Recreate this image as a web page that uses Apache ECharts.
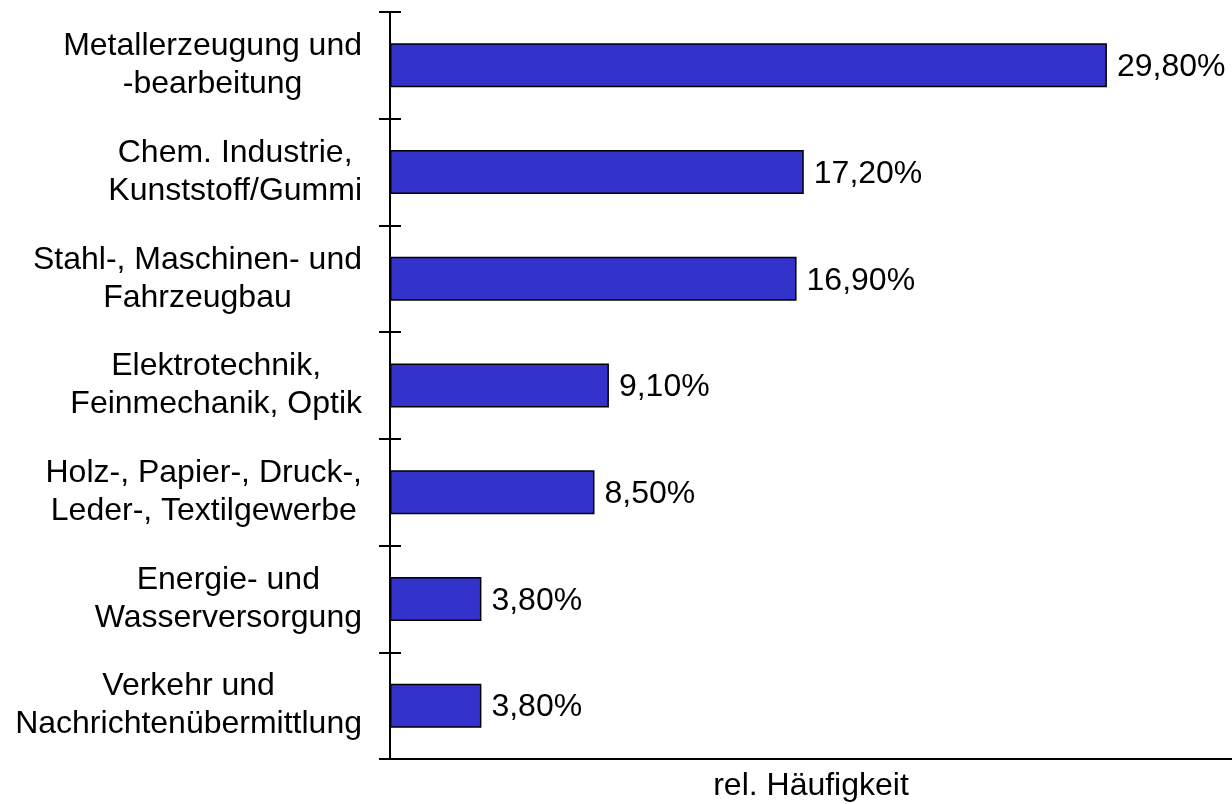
<!DOCTYPE html>
<html>
<head>
<meta charset="utf-8">
<script src="https://cdn.jsdelivr.net/npm/echarts@6/dist/echarts.min.js"></script>
<style>
html,body{margin:0;padding:0;background:#fff;}
#chart{width:1232px;height:804px;}
</style>
</head>
<body>
<div id="chart"></div>
<script>
const categories = [
  "Metallerzeugung und\n-bearbeitung",
  "Chem. Industrie,\nKunststoff/Gummi",
  "Stahl-, Maschinen- und\nFahrzeugbau",
  "Elektrotechnik,\nFeinmechanik, Optik",
  "Holz-, Papier-, Druck-,\nLeder-, Textilgewerbe",
  "Energie- und\nWasserversorgung",
  "Verkehr und\nNachrichtenübermittlung"
];
const values = [29.8, 17.2, 16.9, 9.1, 8.5, 3.8, 3.8];
const xAxisName = "rel. Häufigkeit";

const FONT = "'Liberation Sans', Arial, sans-serif";
const chart = echarts.init(document.getElementById('chart'));
chart.setOption({
  animation: false,
  backgroundColor: '#ffffff',
  grid: {left: 390, right: 0, top: 12, bottom: 45, containLabel: false, outerBoundsMode: 'none'},
  xAxis: {
    type: 'value', min: 0, max: 35,
    name: xAxisName, nameLocation: 'middle', nameGap: 11,
    nameTextStyle: {fontFamily: FONT, fontSize: 32, color: '#000', verticalAlign: 'top'},
    axisLine: {show: true, lineStyle: {color: '#000', width: 2}},
    axisTick: {show: false}, axisLabel: {show: false}, splitLine: {show: false}
  },
  yAxis: [{
    type: 'category', data: categories, inverse: true,
    axisLine: {show: true, lineStyle: {color: '#000', width: 2}},
    axisTick: {show: true, length: 11, lineStyle: {color: '#000', width: 2}},
    splitLine: {show: false},
    axisLabel: {
      margin: 28, align: 'right',
      fontFamily: FONT, fontSize: 32, color: '#000', lineHeight: 38,
      formatter: function (v) {
        return v.split('\n').map(function (s) { return '{c|' + s + '}'; }).join('\n');
      },
      rich: {c: {align: 'center', fontFamily: FONT, fontSize: 32, color: '#000', lineHeight: 38}}
    }
  }, {
    type: 'category', data: categories, inverse: true, position: 'left', offset: 0,
    axisLine: {show: false},
    axisTick: {show: true, inside: true, length: 11, lineStyle: {color: '#000', width: 2}},
    axisLabel: {show: false}, splitLine: {show: false}
  }],
  series: [{
    type: 'bar', data: values, yAxisIndex: 0, barWidth: 44,
    itemStyle: {color: '#3333cc', borderColor: '#000', borderWidth: 1.5},
    label: {
      show: true, position: 'right', distance: 10, offset: [0, 2],
      fontFamily: FONT, fontSize: 32, color: '#000',
      formatter: function (p) { return p.value.toFixed(2).replace('.', ',') + '%'; }
    }
  }]
});
</script>
</body>
</html>
